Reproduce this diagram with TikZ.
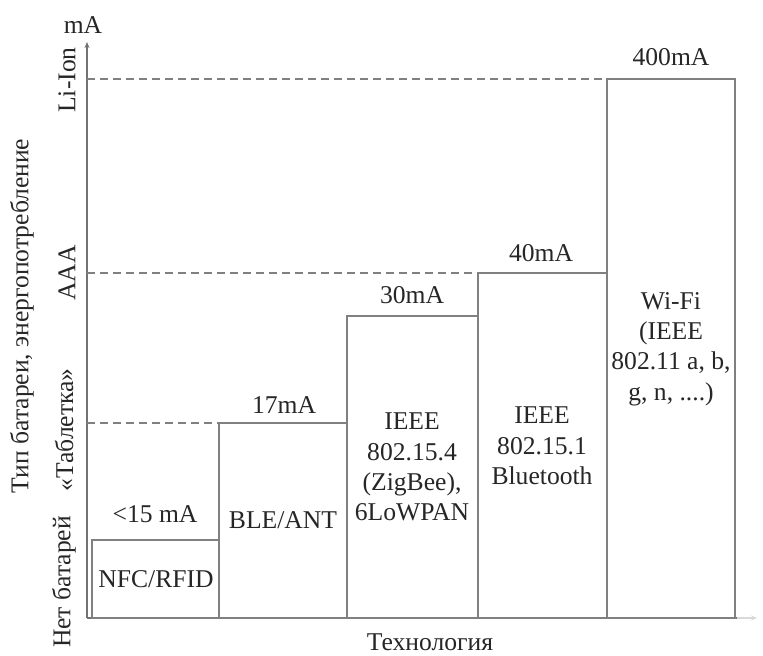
\documentclass[tikz,border=0pt]{standalone}
\usepackage{fontspec}
\setmainfont{Liberation Serif}
\usetikzlibrary{arrows.meta}
\begin{document}
\begin{tikzpicture}[x=0.5pt,y=-0.5pt,
  txt/.style={text=black!85, font=\fontsize{12.8}{15.2}\selectfont, inner sep=0pt},
  mtxt/.style={txt, align=center},
  rtxt/.style={txt, rotate=90},
  bar/.style={draw=black!50, line width=0.8pt},
  guide/.style={draw=black!50, line width=0.6pt, dash pattern=on 4pt off 2.5pt},
  axis/.style={draw=black!55, line width=0.9pt}]
\useasboundingbox (0,0) rectangle (763,655);
% axes
\coordinate (O) at (87,618);
\coordinate (ytip) at (87,42);
\coordinate (xmid) at (737,618);
\coordinate (xend) at (757,618);
\draw[axis, -{Stealth[length=3pt,width=2.5pt]}] (O) -- (ytip);
\draw[axis] (O) -- (xmid);
\draw[draw=black!15, line width=0.9pt, -{Stealth[length=3pt,width=2.5pt]}] (xmid) -- (xend);
% guides
\draw[guide] (87,79) -- (607,79);
\draw[guide] (87,273) -- (478,273);
\draw[guide] (87,423) -- (219,423);
% bars
\draw[bar] (92,540) rectangle (219,618);
\draw[bar] (219,423) rectangle (347,618);
\draw[bar] (347,316) rectangle (478,618);
\draw[bar] (478,273) rectangle (607,618);
\draw[bar] (607,79) rectangle (735,618);
% bar texts
\node[txt] (v15) at (155,514) {<15 mA};
\node[txt] (nfc) at (156,579) {NFC/RFID};
\node[txt] (v17) at (284,405) {17mA};
\node[txt] (ble) at (283,520) {BLE/ANT};
\node[txt] (v30) at (412,295) {30mA};
\node[mtxt] (zig) at (412,467) {IEEE\\802.15.4\\(ZigBee),\\6LoWPAN};
\node[txt] (v40) at (541,253) {40mA};
\node[mtxt] (bt) at (542,446) {IEEE\\802.15.1\\Bluetooth};
\node[txt] (v400) at (671,57) {400mA};
\node[mtxt] (wifi) at (671,349) {Wi-Fi\\(IEEE\\802.11 a, b,\\g, n, ....)};
% axis labels
\node[txt] (ma) at (83,25) {mA};
\node[txt] (tech) at (430,642) {Технология};
\node[rtxt] (li) at (67,80) {Li-Ion};
\node[rtxt] (aaa) at (67,273) {AAA};
\node[rtxt] (tab) at (64,430) {«Таблетка»};
\node[rtxt] (none) at (64,582) {Нет батарей};
\node[rtxt] (ylab) at (22,316) {Тип батареи, энергопотребление};
\end{tikzpicture}
\end{document}
